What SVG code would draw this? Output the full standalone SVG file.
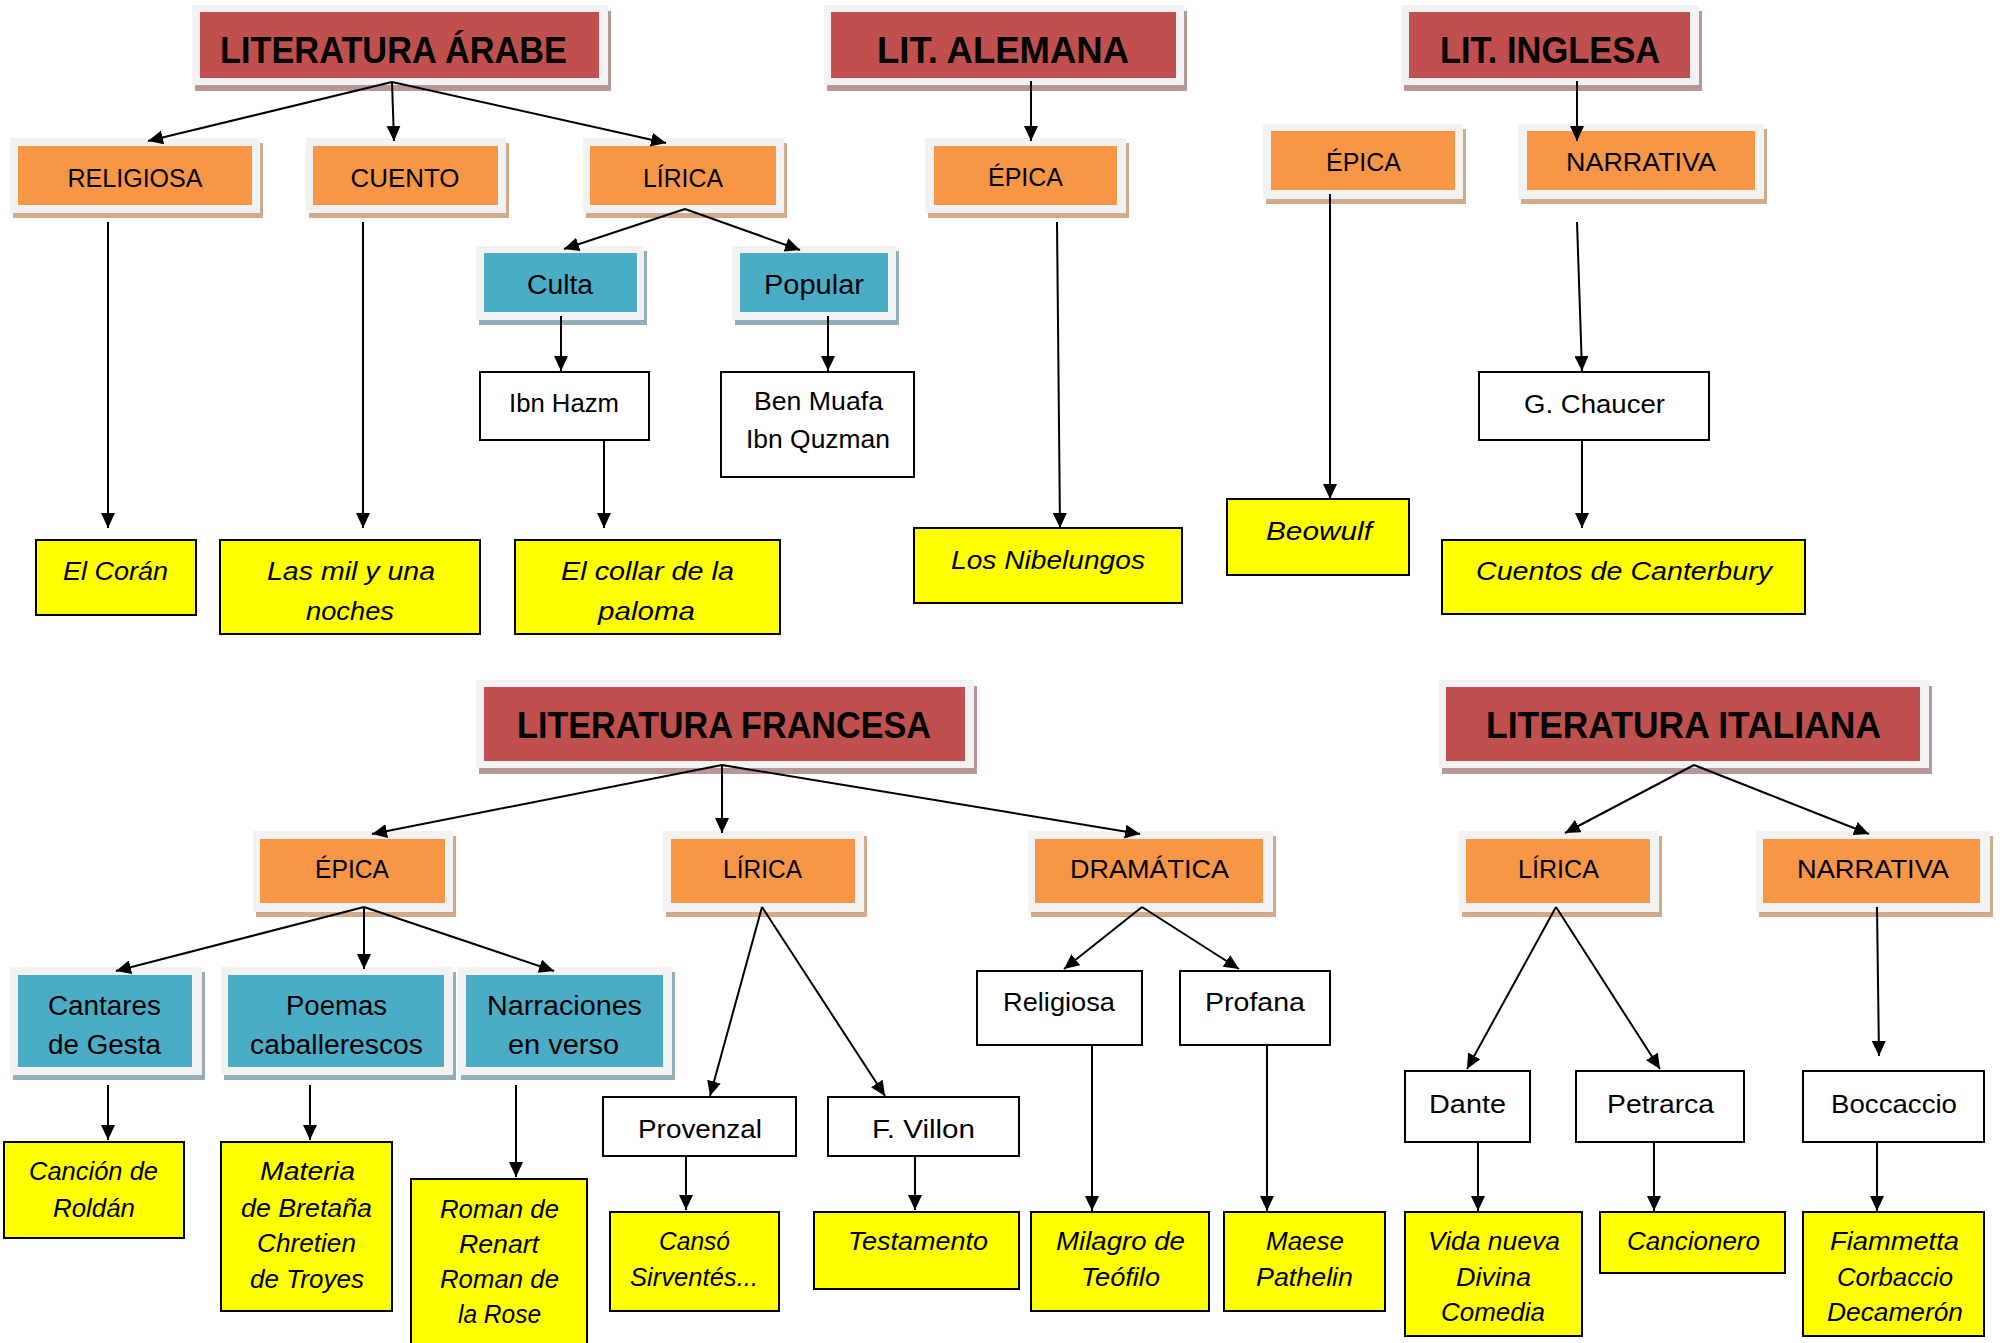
<svg xmlns="http://www.w3.org/2000/svg" width="2004" height="1343" viewBox="0 0 2004 1343">
<style>
text{font-family:"Liberation Sans",Arial,sans-serif;fill:#000;text-anchor:middle}
.t{font-size:36px;font-weight:bold}
.o{font-size:25px}
.b{font-size:27px}
.w{font-size:25px}
.y{font-size:25px;font-style:italic}
.fr{fill:#f2f2f2}
.shr{fill:#b89697}
.sho{fill:#d3a98c}
.shb{fill:#93aeb8}
.red{fill:#c0504d}
.org{fill:#f79646}
.blu{fill:#4bacc6}
.wb{fill:#fff;stroke:#000;stroke-width:2}
.yb{fill:#ffff00;stroke:#000;stroke-width:2}
#connectors line{stroke:#000;stroke-width:2;marker-end:url(#ah)}
</style>
<defs>
<marker id="ah" markerUnits="userSpaceOnUse" markerWidth="16" markerHeight="14" refX="15" refY="7" orient="auto">
<path d="M0,0 L15,7 L0,14 z" fill="#000"/>
</marker>
</defs>
<rect width="2004" height="1343" fill="#fff"/>

<!-- Titles -->
<g id="lit-arabe"><rect class="shr" x="195" y="11" width="416" height="80"/><rect class="fr" x="192" y="5" width="416" height="80"/><rect class="red" x="200" y="12" width="399" height="66"/><text class="t" x="393.5" y="63" textLength="347" lengthAdjust="spacingAndGlyphs">LITERATURA ÁRABE</text></g>
<g id="lit-alemana"><rect class="shr" x="827" y="11" width="360" height="80"/><rect class="fr" x="824" y="5" width="360" height="80"/><rect class="red" x="831" y="12" width="345" height="66"/><text class="t" x="1003" y="63" textLength="252" lengthAdjust="spacingAndGlyphs">LIT. ALEMANA</text></g>
<g id="lit-inglesa"><rect class="shr" x="1404" y="11" width="298" height="80"/><rect class="fr" x="1401" y="5" width="298" height="80"/><rect class="red" x="1409" y="12" width="281" height="66"/><text class="t" x="1550" y="63" textLength="220" lengthAdjust="spacingAndGlyphs">LIT. INGLESA</text></g>
<g id="lit-francesa"><rect class="shr" x="479" y="686" width="498" height="88"/><rect class="fr" x="476" y="680" width="498" height="88"/><rect class="red" x="484" y="687" width="481" height="74"/><text class="t" x="724" y="738" textLength="414" lengthAdjust="spacingAndGlyphs">LITERATURA FRANCESA</text></g>
<g id="lit-italiana"><rect class="shr" x="1442" y="686" width="490" height="88"/><rect class="fr" x="1439" y="680" width="490" height="88"/><rect class="red" x="1446" y="687" width="474" height="74"/><text class="t" x="1683.5" y="738" textLength="395" lengthAdjust="spacingAndGlyphs">LITERATURA ITALIANA</text></g>

<!-- Orange genre nodes -->
<g id="religiosa-ar"><rect class="sho" x="13" y="143" width="250" height="75"/><rect class="fr" x="10" y="138" width="250" height="75"/><rect class="org" x="18" y="146" width="234" height="59"/><text class="o" x="135" y="187" textLength="135" lengthAdjust="spacingAndGlyphs">RELIGIOSA</text></g>
<g id="cuento-ar"><rect class="sho" x="309" y="143" width="200" height="75"/><rect class="fr" x="306" y="138" width="200" height="75"/><rect class="org" x="313" y="146" width="185" height="59"/><text class="o" x="405" y="187" textLength="109" lengthAdjust="spacingAndGlyphs">CUENTO</text></g>
<g id="lirica-ar"><rect class="sho" x="586" y="143" width="201" height="75"/><rect class="fr" x="583" y="138" width="201" height="75"/><rect class="org" x="590" y="146" width="186" height="59"/><text class="o" x="683" y="187" textLength="80" lengthAdjust="spacingAndGlyphs">LÍRICA</text></g>
<g id="epica-al"><rect class="sho" x="928" y="143" width="201" height="75"/><rect class="fr" x="925" y="138" width="201" height="75"/><rect class="org" x="934" y="146" width="183" height="59"/><text class="o" x="1025.5" y="186" textLength="75" lengthAdjust="spacingAndGlyphs">ÉPICA</text></g>
<g id="epica-in"><rect class="sho" x="1266" y="129" width="200" height="75"/><rect class="fr" x="1263" y="124" width="200" height="75"/><rect class="org" x="1271" y="131" width="184" height="59"/><text class="o" x="1363.5" y="171" textLength="75" lengthAdjust="spacingAndGlyphs">ÉPICA</text></g>
<g id="narrativa-in"><rect class="sho" x="1521" y="129" width="246" height="75"/><rect class="fr" x="1518" y="124" width="246" height="75"/><rect class="org" x="1527" y="131" width="228" height="59"/><text class="o" x="1641" y="171" textLength="150" lengthAdjust="spacingAndGlyphs">NARRATIVA</text></g>
<g id="epica-fr"><rect class="sho" x="256" y="836" width="200" height="81"/><rect class="fr" x="253" y="831" width="200" height="81"/><rect class="org" x="260" y="839" width="185" height="64"/><text class="o" x="352" y="878" textLength="74" lengthAdjust="spacingAndGlyphs">ÉPICA</text></g>
<g id="lirica-fr"><rect class="sho" x="666" y="836" width="201" height="81"/><rect class="fr" x="663" y="831" width="201" height="81"/><rect class="org" x="671" y="839" width="184" height="64"/><text class="o" x="762.5" y="878" textLength="79" lengthAdjust="spacingAndGlyphs">LÍRICA</text></g>
<g id="dramatica-fr"><rect class="sho" x="1031" y="836" width="245" height="81"/><rect class="fr" x="1028" y="831" width="245" height="81"/><rect class="org" x="1035" y="839" width="228" height="64"/><text class="o" x="1149.5" y="878" textLength="159" lengthAdjust="spacingAndGlyphs">DRAMÁTICA</text></g>
<g id="lirica-it"><rect class="sho" x="1462" y="836" width="200" height="81"/><rect class="fr" x="1459" y="831" width="200" height="81"/><rect class="org" x="1466" y="839" width="184" height="64"/><text class="o" x="1558.5" y="878" textLength="81" lengthAdjust="spacingAndGlyphs">LÍRICA</text></g>
<g id="narrativa-it"><rect class="sho" x="1759" y="836" width="234" height="81"/><rect class="fr" x="1756" y="831" width="234" height="81"/><rect class="org" x="1763" y="839" width="217" height="64"/><text class="o" x="1873" y="878" textLength="152" lengthAdjust="spacingAndGlyphs">NARRATIVA</text></g>

<!-- Blue subgenre nodes -->
<g id="culta"><rect class="shb" x="479" y="251" width="168" height="74"/><rect class="fr" x="476" y="246" width="168" height="74"/><rect class="blu" x="484" y="253" width="153" height="59"/><text class="b" x="560" y="294" textLength="66" lengthAdjust="spacingAndGlyphs">Culta</text></g>
<g id="popular"><rect class="shb" x="735" y="251" width="164" height="74"/><rect class="fr" x="732" y="246" width="164" height="74"/><rect class="blu" x="740" y="253" width="148" height="59"/><text class="b" x="814" y="294" textLength="100" lengthAdjust="spacingAndGlyphs">Popular</text></g>
<g id="cantares"><rect class="shb" x="13" y="972" width="192" height="108"/><rect class="fr" x="10" y="967" width="192" height="108"/><rect class="blu" x="18" y="975" width="174" height="92"/><text class="b" x="104.5" y="1015" textLength="113" lengthAdjust="spacingAndGlyphs">Cantares</text><text class="b" x="104.5" y="1054" textLength="113" lengthAdjust="spacingAndGlyphs">de Gesta</text></g>
<g id="poemas"><rect class="shb" x="224" y="972" width="232" height="108"/><rect class="fr" x="221" y="967" width="232" height="108"/><rect class="blu" x="228" y="975" width="216" height="92"/><text class="b" x="336.5" y="1015" textLength="101" lengthAdjust="spacingAndGlyphs">Poemas</text><text class="b" x="336.5" y="1054" textLength="173" lengthAdjust="spacingAndGlyphs">caballerescos</text></g>
<g id="narraciones"><rect class="shb" x="461" y="972" width="214" height="108"/><rect class="fr" x="458" y="967" width="214" height="108"/><rect class="blu" x="466" y="975" width="197" height="92"/><text class="b" x="564.5" y="1015" textLength="155" lengthAdjust="spacingAndGlyphs">Narraciones</text><text class="b" x="563.5" y="1054" textLength="111" lengthAdjust="spacingAndGlyphs">en verso</text></g>

<!-- White author nodes -->
<g id="ibn-hazm"><rect class="wb" x="480" y="372" width="169" height="68"/><text class="w" x="564" y="412" textLength="110" lengthAdjust="spacingAndGlyphs">Ibn Hazm</text></g>
<g id="ben-muafa"><rect class="wb" x="721" y="372" width="193" height="105"/><text class="w" x="818.5" y="410" textLength="129" lengthAdjust="spacingAndGlyphs">Ben Muafa</text><text class="w" x="818" y="448" textLength="144" lengthAdjust="spacingAndGlyphs">Ibn Quzman</text></g>
<g id="chaucer"><rect class="wb" x="1479" y="372" width="230" height="68"/><text class="w" x="1594.5" y="413" textLength="141" lengthAdjust="spacingAndGlyphs">G. Chaucer</text></g>
<g id="provenzal"><rect class="wb" x="603" y="1097" width="193" height="59"/><text class="w" x="700" y="1138" textLength="124" lengthAdjust="spacingAndGlyphs">Provenzal</text></g>
<g id="villon"><rect class="wb" x="828" y="1097" width="191" height="59"/><text class="w" x="923.5" y="1138" textLength="103" lengthAdjust="spacingAndGlyphs">F. Villon</text></g>
<g id="religiosa-fr"><rect class="wb" x="977" y="971" width="165" height="74"/><text class="w" x="1059" y="1011" textLength="112" lengthAdjust="spacingAndGlyphs">Religiosa</text></g>
<g id="profana"><rect class="wb" x="1180" y="971" width="150" height="74"/><text class="w" x="1255" y="1011" textLength="100" lengthAdjust="spacingAndGlyphs">Profana</text></g>
<g id="dante"><rect class="wb" x="1405" y="1071" width="125" height="71"/><text class="w" x="1467.5" y="1113" textLength="77" lengthAdjust="spacingAndGlyphs">Dante</text></g>
<g id="petrarca"><rect class="wb" x="1576" y="1071" width="168" height="71"/><text class="w" x="1660.5" y="1113" textLength="107" lengthAdjust="spacingAndGlyphs">Petrarca</text></g>
<g id="boccaccio"><rect class="wb" x="1803" y="1071" width="181" height="71"/><text class="w" x="1894" y="1113" textLength="126" lengthAdjust="spacingAndGlyphs">Boccaccio</text></g>

<!-- Yellow work nodes -->
<g id="coran"><rect class="yb" x="36" y="540" width="160" height="75"/><text class="y" x="115.5" y="580" textLength="105" lengthAdjust="spacingAndGlyphs">El Corán</text></g>
<g id="mil-noches"><rect class="yb" x="220" y="540" width="260" height="94"/><text class="y" x="351" y="580" textLength="168" lengthAdjust="spacingAndGlyphs">Las mil y una</text><text class="y" x="350" y="620" textLength="88" lengthAdjust="spacingAndGlyphs">noches</text></g>
<g id="collar"><rect class="yb" x="515" y="540" width="265" height="94"/><text class="y" x="647.5" y="580" textLength="173" lengthAdjust="spacingAndGlyphs">El collar de la</text><text class="y" x="646.5" y="620" textLength="97" lengthAdjust="spacingAndGlyphs">paloma</text></g>
<g id="nibelungos"><rect class="yb" x="914" y="528" width="268" height="75"/><text class="y" x="1048" y="569" textLength="194" lengthAdjust="spacingAndGlyphs">Los Nibelungos</text></g>
<g id="beowulf"><rect class="yb" x="1227" y="499" width="182" height="76"/><text class="y" x="1319" y="540" textLength="106" lengthAdjust="spacingAndGlyphs">Beowulf</text></g>
<g id="canterbury"><rect class="yb" x="1442" y="540" width="363" height="74"/><text class="y" x="1624" y="580" textLength="296" lengthAdjust="spacingAndGlyphs">Cuentos de Canterbury</text></g>
<g id="roldan"><rect class="yb" x="4" y="1142" width="180" height="96"/><text class="y" x="93.5" y="1180" textLength="129" lengthAdjust="spacingAndGlyphs">Canción de</text><text class="y" x="94" y="1217" textLength="82" lengthAdjust="spacingAndGlyphs">Roldán</text></g>
<g id="materia"><rect class="yb" x="221" y="1142" width="171" height="169"/><text class="y" x="307.5" y="1180" textLength="95" lengthAdjust="spacingAndGlyphs">Materia</text><text class="y" x="306.5" y="1217" textLength="131" lengthAdjust="spacingAndGlyphs">de Bretaña</text><text class="y" x="306.5" y="1252" textLength="99" lengthAdjust="spacingAndGlyphs">Chretien</text><text class="y" x="307" y="1288" textLength="114" lengthAdjust="spacingAndGlyphs">de Troyes</text></g>
<g id="roman"><rect class="yb" x="411" y="1179" width="176" height="175"/><text class="y" x="499.5" y="1218" textLength="119" lengthAdjust="spacingAndGlyphs">Roman de</text><text class="y" x="499" y="1253" textLength="80" lengthAdjust="spacingAndGlyphs">Renart</text><text class="y" x="499.5" y="1288" textLength="119" lengthAdjust="spacingAndGlyphs">Roman de</text><text class="y" x="499.5" y="1323" textLength="83" lengthAdjust="spacingAndGlyphs">la Rose</text></g>
<g id="canso"><rect class="yb" x="610" y="1212" width="169" height="99"/><text class="y" x="694.5" y="1250" textLength="71" lengthAdjust="spacingAndGlyphs">Cansó</text><text class="y" x="694" y="1286" textLength="128" lengthAdjust="spacingAndGlyphs">Sirventés...</text></g>
<g id="testamento"><rect class="yb" x="814" y="1212" width="205" height="77"/><text class="y" x="918" y="1250" textLength="140" lengthAdjust="spacingAndGlyphs">Testamento</text></g>
<g id="milagro"><rect class="yb" x="1031" y="1212" width="178" height="99"/><text class="y" x="1120.5" y="1250" textLength="129" lengthAdjust="spacingAndGlyphs">Milagro de</text><text class="y" x="1120.5" y="1286" textLength="79" lengthAdjust="spacingAndGlyphs">Teófilo</text></g>
<g id="maese"><rect class="yb" x="1224" y="1212" width="161" height="99"/><text class="y" x="1305" y="1250" textLength="78" lengthAdjust="spacingAndGlyphs">Maese</text><text class="y" x="1304.5" y="1286" textLength="97" lengthAdjust="spacingAndGlyphs">Pathelin</text></g>
<g id="vida-nueva"><rect class="yb" x="1405" y="1212" width="177" height="124"/><text class="y" x="1494" y="1250" textLength="132" lengthAdjust="spacingAndGlyphs">Vida nueva</text><text class="y" x="1493.5" y="1286" textLength="75" lengthAdjust="spacingAndGlyphs">Divina</text><text class="y" x="1493" y="1321" textLength="104" lengthAdjust="spacingAndGlyphs">Comedia</text></g>
<g id="cancionero"><rect class="yb" x="1600" y="1212" width="185" height="61"/><text class="y" x="1693.5" y="1250" textLength="133" lengthAdjust="spacingAndGlyphs">Cancionero</text></g>
<g id="fiammetta"><rect class="yb" x="1803" y="1212" width="181" height="124"/><text class="y" x="1894.5" y="1250" textLength="129" lengthAdjust="spacingAndGlyphs">Fiammetta</text><text class="y" x="1895" y="1286" textLength="116" lengthAdjust="spacingAndGlyphs">Corbaccio</text><text class="y" x="1895" y="1321" textLength="136" lengthAdjust="spacingAndGlyphs">Decamerón</text></g>

<g id="connectors">
<line x1="392" y1="82" x2="148" y2="141"/>
<line x1="392" y1="82" x2="394" y2="141"/>
<line x1="392" y1="82" x2="666" y2="143"/>
<line x1="685" y1="209" x2="564" y2="249"/>
<line x1="685" y1="209" x2="800" y2="250"/>
<line x1="108" y1="222" x2="108" y2="528"/>
<line x1="363" y1="222" x2="363" y2="528"/>
<line x1="561" y1="316" x2="561" y2="371"/>
<line x1="828" y1="316" x2="828" y2="371"/>
<line x1="604" y1="440" x2="604" y2="528"/>
<line x1="1031" y1="81" x2="1031" y2="141"/>
<line x1="1057" y1="222" x2="1060" y2="528"/>
<line x1="1330" y1="194" x2="1330" y2="499"/>
<line x1="1577" y1="81" x2="1577" y2="141"/>
<line x1="1577" y1="222" x2="1582" y2="371"/>
<line x1="1582" y1="440" x2="1582" y2="528"/>
<line x1="722" y1="765" x2="372" y2="834"/>
<line x1="722" y1="765" x2="722" y2="833"/>
<line x1="722" y1="765" x2="1140" y2="834"/>
<line x1="364" y1="907" x2="116" y2="971"/>
<line x1="364" y1="907" x2="364" y2="969"/>
<line x1="364" y1="907" x2="554" y2="971"/>
<line x1="762" y1="907" x2="710" y2="1096"/>
<line x1="762" y1="907" x2="885" y2="1096"/>
<line x1="1142" y1="907" x2="1064" y2="969"/>
<line x1="1142" y1="907" x2="1239" y2="969"/>
<line x1="108" y1="1085" x2="108" y2="1140"/>
<line x1="310" y1="1085" x2="310" y2="1140"/>
<line x1="516" y1="1085" x2="516" y2="1177"/>
<line x1="686" y1="1156" x2="686" y2="1210"/>
<line x1="915" y1="1156" x2="915" y2="1210"/>
<line x1="1092" y1="1045" x2="1092" y2="1211"/>
<line x1="1267" y1="1045" x2="1267" y2="1211"/>
<line x1="1694" y1="765" x2="1565" y2="833"/>
<line x1="1694" y1="765" x2="1869" y2="834"/>
<line x1="1556" y1="907" x2="1467" y2="1069"/>
<line x1="1556" y1="907" x2="1660" y2="1069"/>
<line x1="1877" y1="907" x2="1879" y2="1056"/>
<line x1="1478" y1="1142" x2="1478" y2="1211"/>
<line x1="1654" y1="1142" x2="1654" y2="1211"/>
<line x1="1877" y1="1142" x2="1877" y2="1211"/>
</g>
</svg>
